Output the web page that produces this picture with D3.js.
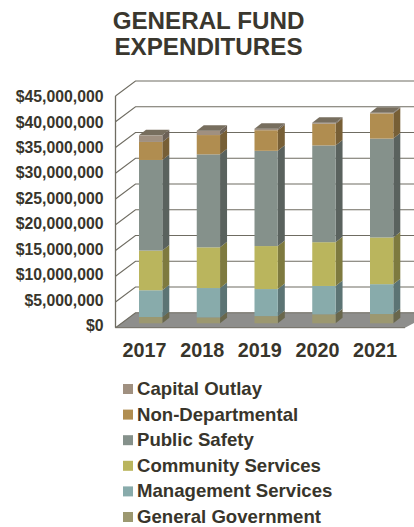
<!DOCTYPE html>
<html>
<head>
  <meta charset="utf-8">
  <script src="https://d3js.org/d3.v7.min.js"></script>
  <style>
    html, body { margin: 0; padding: 0; background: #fff; }
    svg { display: block; }
    text { font-family: "Liberation Sans", Arial, sans-serif; font-weight: bold; fill: #38352b; }
    .y.axis .domain, .y.axis line, .x.axis .domain, .x.axis line { display: none; }
  </style>
</head>
<body>
  <svg id="p" width="414" height="527"></svg>
  <script>
    const years = ["2017", "2018", "2019", "2020", "2021"];
    const yTicks = [0, 5e6, 10e6, 15e6, 20e6, 25e6, 30e6, 35e6, 40e6, 45e6];
    const legendNames = ["Capital Outlay", "Non-Departmental", "Public Safety", "Community Services", "Management Services", "General Government"];

    const generalGovernment = [1.22e6, 1.15e6, 1.4e6, 1.75e6, 1.8e6];
    const managementServices = [5.2e6, 5.7e6, 5.25e6, 5.5e6, 5.8e6];
    const communityServices = [7.7e6, 7.9e6, 8.35e6, 8.5e6, 9.07e6];
    const publicSafety = [17.6e6, 18.06e6, 18.5e6, 18.8e6, 19.2e6];
    const nonDepartmental = [3.5e6, 3.75e6, 4.0e6, 4.2e6, 4.9e6];
    const capitalOutlay = [1.28e6, 0.85e6, 0.3e6, 0.2e6, 0.1e6];

    const seriesValues = {
      "General Government": generalGovernment,
      "Management Services": managementServices,
      "Community Services": communityServices,
      "Public Safety": publicSafety,
      "Non-Departmental": nonDepartmental,
      "Capital Outlay": capitalOutlay
    };
    const colors = {
      "Capital Outlay": "#a09080",
      "Non-Departmental": "#b08d50",
      "Public Safety": "#85918b",
      "Community Services": "#bab55d",
      "Management Services": "#88abab",
      "General Government": "#9c9870"
    };

    const svg = d3.select("svg#p");
    const width = +svg.attr("width");

    // front edge of the 3d box, everything else is shifted from this
    const axisX = 115.5;
    const wallDx = 20, wallDy = -15;
    const barLift = -4.4;
    const barDx = 7, barDy = -5.5;

    const yScale = d3.scaleLinear().domain([0, 45e6]).range([327.7, 96]);
    const xScale = d3.scaleBand().domain(years).range([139, 393.3]).paddingInner(0.5965);
    // the labels in the original sit on a slightly tighter spacing than the marks
    const yLabelScale = d3.scaleLinear().domain([0, 45e6]).range([325.5, 96.5]);
    const xLabelScale = d3.scalePoint().domain(years).range([144, 374.5]);

    const rows = years.map((y, i) => {
      const row = { year: y };
      Object.keys(seriesValues).forEach(k => { row[k] = seriesValues[k][i]; });
      return row;
    });
    const stacked = d3.stack().keys(Object.keys(seriesValues))(rows);

    const poly = pts => pts.map(p => p.join(",")).join(" ");

    // floor
    svg.append("polygon")
      .attr("points", poly([[axisX, yScale(0)], [axisX + wallDx, yScale(0) + wallDy], [width + 20, yScale(0) + wallDy], [405, yScale(0)]]))
      .attr("fill", "#8e8e8c");

    // gridlines, left wall diagonal + back wall
    const grid = svg.append("g").attr("class", "gridlines");
    yTicks.forEach(t => {
      const y0 = yScale(t);
      grid.append("polyline")
        .attr("points", poly([[axisX, y0], [axisX + wallDx, y0 + wallDy], [width, y0 + wallDy]]))
        .attr("fill", "none")
        .attr("stroke", "#6f6c62")
        .attr("stroke-width", 1.1);
    });
    grid.append("line")
      .attr("x1", axisX).attr("x2", axisX)
      .attr("y1", yScale(45e6)).attr("y2", yScale(0))
      .attr("stroke", "#6f6c62").attr("stroke-width", 1.3);
    grid.append("line")
      .attr("x1", axisX).attr("x2", 405)
      .attr("y1", yScale(0)).attr("y2", yScale(0))
      .attr("stroke", "#6f6c62").attr("stroke-width", 1);

    // bars
    const bars = svg.append("g").attr("id", "bars");
    stacked.forEach(layer => {
      const base = d3.color(colors[layer.key]);
      layer.forEach(d => {
        const year = d.data.year;
        const x0 = xScale(year), x1 = x0 + xScale.bandwidth();
        const yb = yScale(d[0]) + barLift, yt = yScale(d[1]) + barLift;
        bars.append("polygon")
          .attr("points", poly([[x1, yb], [x1 + barDx, yb + barDy], [x1 + barDx, yt + barDy], [x1, yt]]))
          .attr("fill", base.darker(1.1));
        bars.append("rect")
          .attr("x", x0).attr("y", yt)
          .attr("width", xScale.bandwidth()).attr("height", yb - yt)
          .attr("fill", base);
      });
    });
    // top faces
    const topLayer = stacked[stacked.length - 1];
    topLayer.forEach(d => {
      const x0 = xScale(d.data.year), x1 = x0 + xScale.bandwidth();
      const yt = yScale(d[1]) + barLift;
      bars.append("polygon")
        .attr("points", poly([[x0, yt], [x0 + barDx, yt + barDy], [x1 + barDx, yt + barDy], [x1, yt]]))
        .attr("fill", "#776e5e");
    });

    // axis labels
    svg.append("g")
      .attr("class", "y axis")
      .attr("transform", "translate(103.5,0)")
      .call(d3.axisLeft(yLabelScale).tickValues(yTicks).tickSize(0).tickPadding(0)
        .tickFormat(d3.format("$,")))
      .call(g => g.selectAll("text").style("font-size", "15.8px").style("font-family", null));

    svg.append("g")
      .attr("class", "x axis")
      .attr("transform", "translate(0,343)")
      .call(d3.axisBottom(xLabelScale).tickSize(0).tickPadding(0))
      .call(g => g.selectAll("text").style("font-size", "19.8px").style("font-family", null));

    // title
    const title = svg.append("text").attr("text-anchor", "middle").style("font-size", "24.2px").style("fill", "#3a372e");
    title.append("tspan").attr("x", 208.5).attr("y", 29).text("GENERAL FUND");
    title.append("tspan").attr("x", 208.5).attr("y", 55).text("EXPENDITURES");

    // legend
    const legendY = d3.scalePoint().domain(legendNames).range([389, 517]);
    const legend = svg.append("g").attr("id", "legend");
    legendNames.forEach(name => {
      legend.append("rect")
        .attr("x", 123).attr("y", legendY(name) - 5)
        .attr("width", 10).attr("height", 10)
        .attr("fill", colors[name]);
      legend.append("text")
        .attr("x", 137).attr("y", legendY(name) + 6)
        .style("font-size", "18.6px")
        .text(name);
    });
  </script>
</body>
</html>
